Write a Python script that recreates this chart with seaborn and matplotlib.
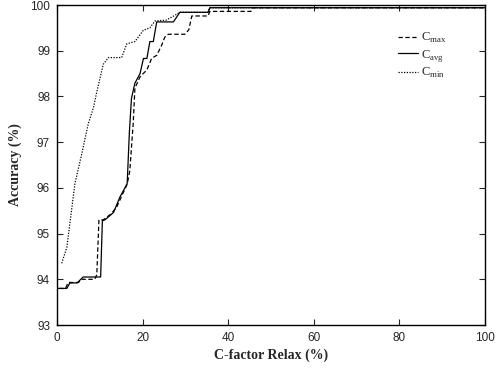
import matplotlib
matplotlib.use('Agg')
import matplotlib.pyplot as plt
import seaborn as sns
import pandas as pd

# 데이터
cmax_x = [0.5, 2.0, 2.6, 5.0, 5.8, 8.8, 9.3, 9.8, 10.8, 12.5, 13.9, 15.5, 16.4, 17.0, 17.8, 18.2, 19.4, 21.0,
          22.1, 23.3, 24.5, 25.2, 26.0, 29.9, 30.8, 31.5, 35.3, 35.7, 45.3, 45.8, 100]
cmax_y = [93.8, 93.8, 93.93, 93.93, 94.0, 94.0, 94.1, 95.3, 95.3, 95.42, 95.57, 95.9, 96.08, 96.37, 97.4, 98.18,
          98.43, 98.58, 98.83, 98.9, 99.13, 99.3, 99.36, 99.36, 99.46, 99.76, 99.76, 99.86, 99.86, 99.94, 99.94]

cavg_x = [0.3, 2.3, 3.0, 4.7, 6.1, 10.2, 10.6, 11.2, 13.2, 14.7, 16.1, 16.4, 16.9, 17.4, 18.2, 19.4, 20.2, 21.0,
          21.7, 22.5, 23.3, 27.2, 28.7, 35.3, 35.7, 100]
cavg_y = [93.8, 93.8, 93.92, 93.92, 94.05, 94.05, 95.28, 95.3, 95.46, 95.8, 96.04, 96.1, 97.2, 97.96, 98.29, 98.5,
          98.83, 98.83, 99.2, 99.2, 99.63, 99.63, 99.84, 99.84, 99.94, 99.94]

cmin_x = [1.1, 2.3, 4.2, 5.8, 7.3, 8.5, 9.3, 10.8, 12.0, 15.1, 16.3, 18.2, 20.2, 21.7, 22.9, 25.5, 27.1, 28.7,
          35.3, 35.7, 100]
cmin_y = [94.35, 94.7, 96.1, 96.75, 97.4, 97.75, 98.1, 98.7, 98.85, 98.85, 99.15, 99.2, 99.45, 99.5, 99.65,
          99.67, 99.75, 99.84, 99.84, 99.94, 99.94]

x_ticks = [0, 20, 40, 60, 80, 100]
y_ticks = [93, 94, 95, 96, 97, 98, 99, 100]

sns.set_style('ticks')
plt.rcParams['font.family'] = 'sans-serif'
plt.rcParams['font.sans-serif'] = ['Liberation Sans', 'DejaVu Sans']
plt.rcParams['mathtext.fontset'] = 'custom'
plt.rcParams['mathtext.rm'] = 'Liberation Serif'

fig = plt.figure(figsize=(4.97, 3.75), dpi=100)
ax = fig.add_axes([57 / 497, 1 - 325 / 375, (485 - 57) / 497, (325 - 5) / 375])

series = [
    (cmax_x, cmax_y, r'C$_{\mathrm{max}}$', (0, (3.5, 2))),
    (cavg_x, cavg_y, r'C$_{\mathrm{avg}}$', '-'),
    (cmin_x, cmin_y, r'C$_{\mathrm{min}}$', (0, (1, 1.2))),
]
for xs, ys, name, ls in series:
    df = pd.DataFrame({'x': xs, 'y': ys})
    sns.lineplot(data=df, x='x', y='y', ax=ax, color='black', linewidth=0.9,
                 linestyle=ls, label=name, sort=False, estimator=None)

ax.set_xlim(0, 100)
ax.set_ylim(93, 100)
ax.set_xticks(x_ticks)
ax.set_yticks(y_ticks)
ax.tick_params(direction='in', top=True, right=True, length=4, width=0.8, labelsize=8.5, pad=5)
for lab in ax.get_xticklabels() + ax.get_yticklabels():
    lab.set_fontfamily('Liberation Sans')
for s in ax.spines.values():
    s.set_linewidth(1.0)
    s.set_color('black')

ax.set_xlabel('C-factor Relax (%)', fontfamily='Liberation Serif', fontweight='bold', fontsize=10, labelpad=3)
ax.set_ylabel('Accuracy (%)', fontfamily='Liberation Serif', fontweight='bold', fontsize=10, labelpad=6)

ax.legend(loc='upper left', bbox_to_anchor=(398 / 497, 1 - 31 / 375), bbox_transform=fig.transFigure,
          frameon=False, borderpad=0, borderaxespad=0,
          prop={'family': 'Liberation Serif', 'size': 9}, handlelength=1.6,
          handletextpad=0.25, labelspacing=0.2)

fig.savefig('out.png', dpi=100)
